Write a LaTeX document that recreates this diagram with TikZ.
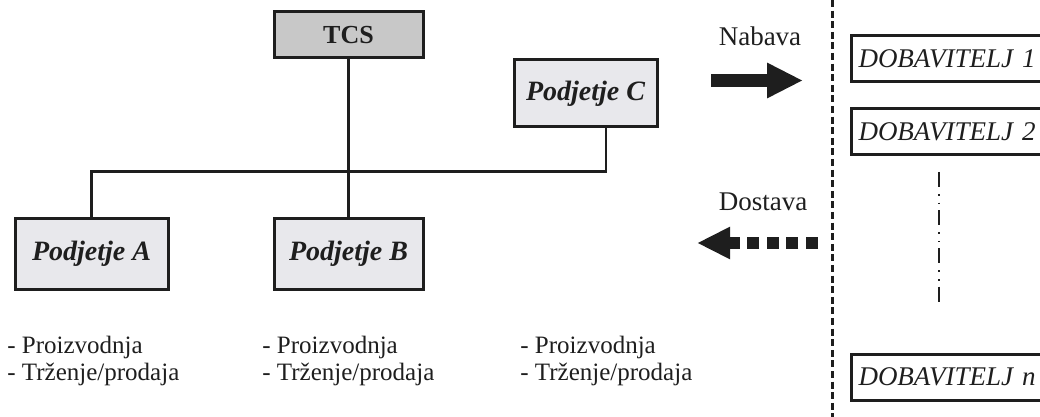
\documentclass[tikz,border=0pt]{standalone}
\usepackage{fontspec}
\setmainfont{Liberation Serif}
\usepackage{tikz}
\usetikzlibrary{arrows.meta,positioning}
\definecolor{ink}{RGB}{30,30,30}
\definecolor{boxgray}{RGB}{232,232,236}
\definecolor{topgray}{RGB}{200,200,200}

\begin{document}
\begin{tikzpicture}[x=0.5pt,y=-0.5pt,
  company/.style={draw=ink,line width=1.5pt,fill=boxgray,minimum height=35pt,inner sep=0pt,
    text=ink,font=\fontsize{14}{16}\selectfont\bfseries\itshape},
  holding/.style={company,fill=topgray,minimum height=23pt,font=\fontsize{13}{15}\selectfont\bfseries},
  supplier/.style={draw=ink,line width=1.5pt,fill=white,minimum height=23pt,text width=112pt,
    align=left,inner xsep=3.5pt,text=ink,font=\fontsize{13.5}{16}\selectfont\itshape},
  activity/.style={align=left,anchor=west,inner sep=0pt,text=ink,font=\fontsize{12.5}{13.5}\selectfont},
  flowlbl/.style={text=ink,inner sep=0pt,font=\fontsize{13.5}{15}\selectfont},
  link/.style={draw=ink,line width=1.2pt},
  border/.style={draw=ink,line width=1.5pt,dash pattern=on 3.5pt off 1.8pt},
  ellip/.style={draw=ink,line width=1.3pt,dash pattern=on 7.5pt off 3.5pt on 0.8pt off 3.5pt on 0.8pt off 3pt},
  supply/.style={draw=ink,line width=6.5pt,-{Triangle[length=18pt,width=16.5pt]}},
  delivery/.style={draw=ink,line width=6pt,dash pattern=on 6pt off 3.8pt,-{Triangle[length=16.5pt,width=15pt]}}]
  \useasboundingbox (0,0) rectangle (1040,417);
  \clip (0,0) rectangle (1040,417);

  \node[holding,minimum width=74.5pt]  (tcs)   at (348.5,35)  {TCS};
  \node[company,minimum width=71.5pt,minimum height=33.5pt] (compC) at (585.5,93.5) {Podjetje C};
  \node[company,minimum width=76.5pt]  (compA) at (91.5,254)  {Podjetje A};
  \node[company,minimum width=74.5pt]  (compB) at (348.5,254) {Podjetje B};

  \coordinate (busA)   at ([yshift=23pt]compA.north);
  \coordinate (joinC)  at ([xshift=10.25pt]compC.south);

  \draw[link] (tcs) -- (compB);
  \draw[link] (compA.north) -- (busA) -| (joinC);

  \node[activity] (listA) at (7,361)   {- Proizvodnja\\- Trženje/prodaja};
  \node[activity] (listB) at (262,361) {- Proizvodnja\\- Trženje/prodaja};
  \node[activity] (listC) at (520,361) {- Proizvodnja\\- Trženje/prodaja};

  \node[flowlbl] (nabava)  at (760,36)  {Nabava};
  \node[flowlbl] (dostava) at (763,202) {Dostava};
  \coordinate (nabFrom) at (711,80.5);
  \coordinate (nabTo)   at (803,80.5);
  \coordinate (dosFrom) at (818,243);
  \coordinate (dosTo)   at (697,243);
  \draw[supply]   (nabFrom) -- (nabTo);
  \draw[delivery] (dosFrom) -- (dosTo);

  \coordinate (bordTop) at (832,0);
  \coordinate (bordBot) at (832,417);
  \draw[border] (bordTop) -- (bordBot);

  \node[supplier,anchor=west] (sup1) at (850,59) {DOBAVITELJ 1};
  \node[supplier,below=12pt of sup1] (sup2) {DOBAVITELJ 2};
  \node[supplier,anchor=west] (supN) at (850,377) {DOBAVITELJ \textit{n}};

  \coordinate (dotsTop) at (939,172);
  \coordinate (dotsBot) at (939,303);
  \draw[ellip] (dotsTop) -- (dotsBot);
\end{tikzpicture}
\end{document}
